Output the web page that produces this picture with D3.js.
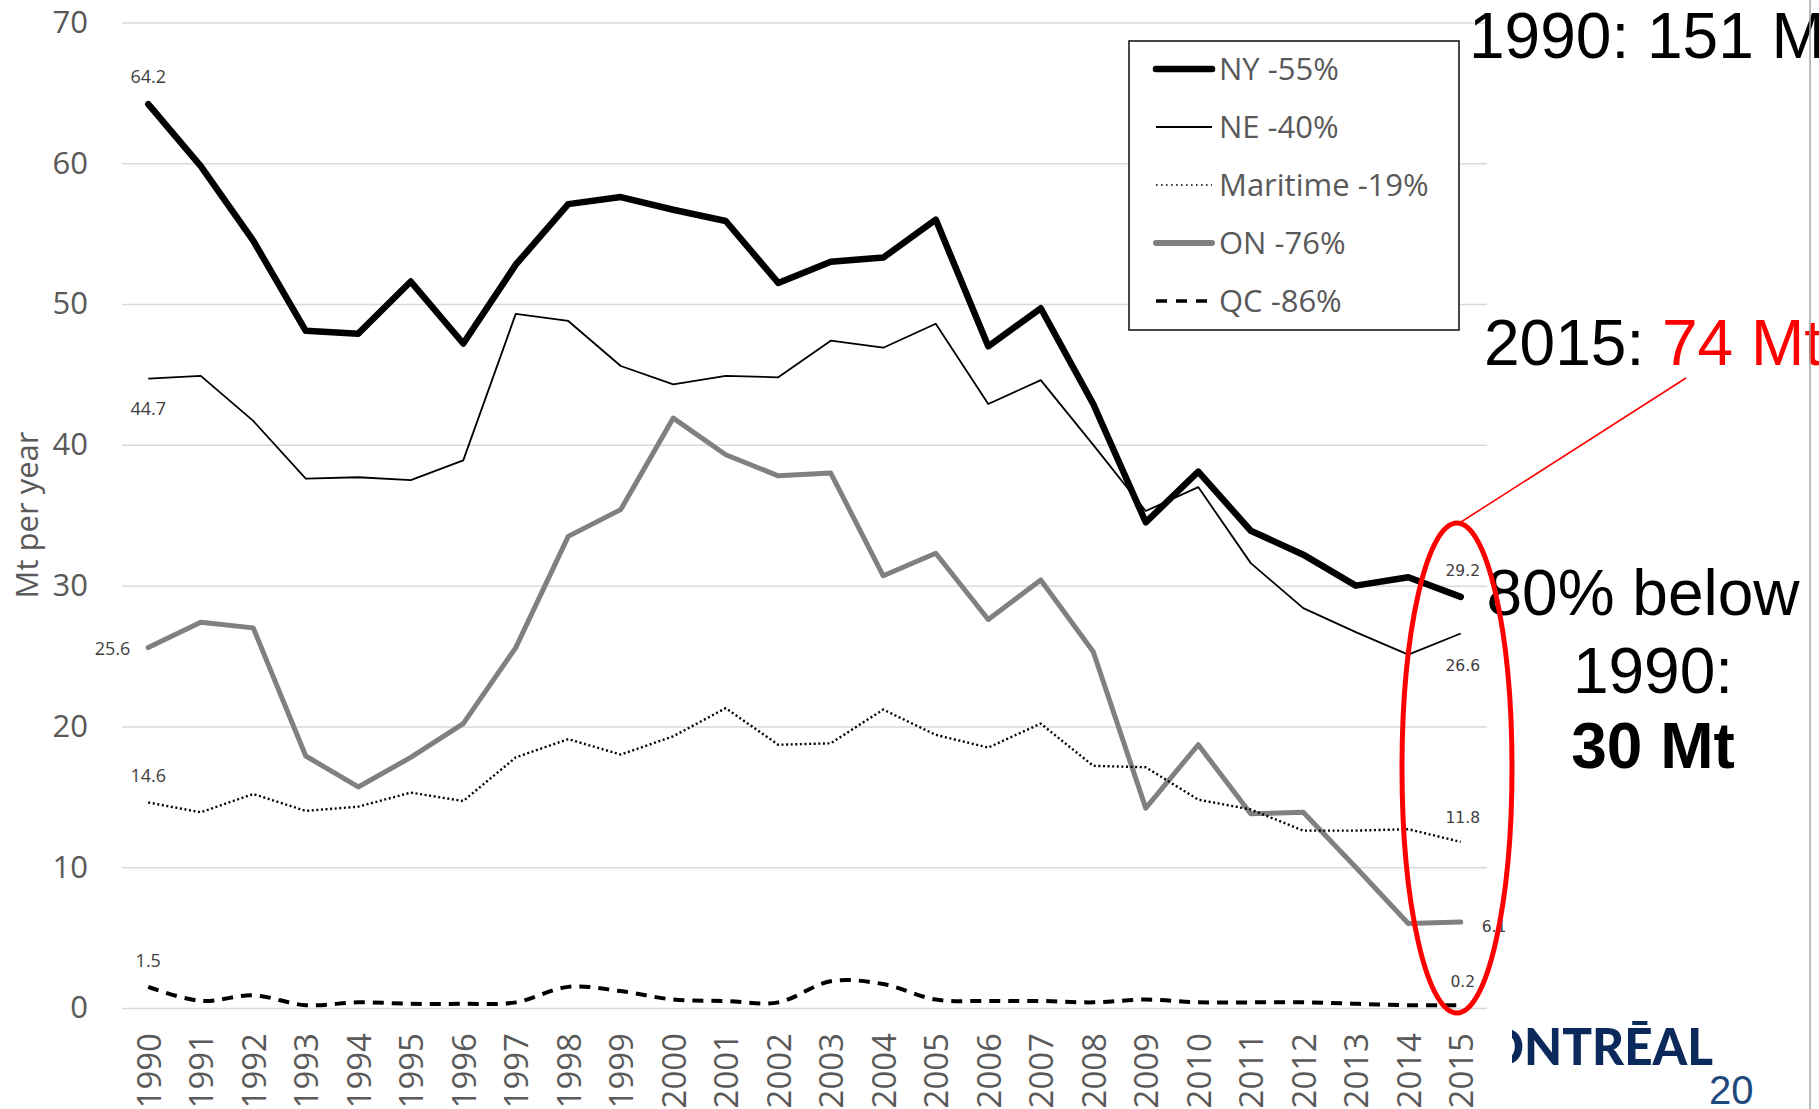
<!DOCTYPE html>
<html lang="en">

<head>
  <meta charset="UTF-8">
  <title>Emissions 1990-2015</title>
  <script src="https://d3js.org/d3.v7.min.js"></script>
  <style>
    body { margin: 0; background: #fff; }
    svg { display: block; }
  </style>
</head>

<body>
  <svg id="chart" width="1819" height="1109"></svg>

  <script>
    // values (Mt per year)
    const years = ["1990", "1991", "1992", "1993", "1994", "1995", "1996", "1997", "1998", "1999",
      "2000", "2001", "2002", "2003", "2004", "2005", "2006", "2007", "2008", "2009",
      "2010", "2011", "2012", "2013", "2014", "2015"];
    const ny = [64.2, 59.8, 54.5, 48.1, 47.9, 51.6, 47.2, 52.8, 57.1, 57.6, 56.7, 55.9, 51.5,
      53.0, 53.3, 56.0, 47.0, 49.7, 42.9, 34.5, 38.1, 33.9, 32.2, 30.0, 30.6, 29.2];
    const ne = [44.7, 44.9, 41.7, 37.6, 37.7, 37.5, 38.9, 49.3, 48.8, 45.6, 44.3, 44.9, 44.8,
      47.4, 46.9, 48.6, 42.9, 44.6, 40.0, 35.3, 37.0, 31.6, 28.4, 26.7, 25.1, 26.6];
    const maritime = [14.6, 13.9, 15.2, 14.0, 14.3, 15.3, 14.7, 17.8, 19.1, 18.0, 19.3, 21.3, 18.7,
      18.8, 21.2, 19.4, 18.5, 20.2, 17.2, 17.1, 14.8, 14.1, 12.6, 12.6, 12.7, 11.8];
    const on = [25.6, 27.4, 27.0, 17.9, 15.7, 17.8, 20.2, 25.6, 33.5, 35.4, 41.9, 39.3, 37.8,
      38.0, 30.7, 32.3, 27.6, 30.4, 25.3, 14.2, 18.7, 13.8, 13.9, 10.0, 6.0, 6.1];
    const qc = [1.5, 0.5, 0.9, 0.2, 0.4, 0.3, 0.3, 0.4, 1.5, 1.2, 0.6, 0.5, 0.4,
      1.9, 1.7, 0.6, 0.5, 0.5, 0.4, 0.6, 0.4, 0.4, 0.4, 0.3, 0.2, 0.2];
    const legendLabels = ["NY -55%", "NE -40%", "Maritime -19%", "ON -76%", "QC -86%"];
    const yTicks = [0, 10, 20, 30, 40, 50, 60, 70];

    const margin = { top: 22.5, right: 332, bottom: 101, left: 122 };
    const width = 1819 - margin.left - margin.right;
    const height = 1109 - margin.top - margin.bottom;

    const svg = d3.select("#chart");
    const g = svg.append("g")
      .attr("transform", `translate(${margin.left}, ${margin.top})`);

    const x = d3.scalePoint()
      .domain(years)
      .range([0, width])
      .padding(0.5);

    const y = d3.scaleLinear()
      .domain([0, 70])
      .range([height, 0]);

    // gridlines + y labels
    g.append("g")
      .attr("class", "axis axis--y")
      .call(d3.axisLeft(y).tickValues(yTicks).tickSize(-width).tickPadding(34))
      .call(a => a.select(".domain").remove())
      .call(a => a.selectAll("line").attr("stroke", "#d9d9d9").attr("stroke-width", 1.5))
      .call(a => a.selectAll("text")
        .attr("fill", "#595959")
        .style("font-family", "'Open Sans'")
        .style("font-size", "31px"));

    // rotated year labels
    g.append("g")
      .attr("class", "axis axis--x")
      .attr("transform", `translate(0, ${height})`)
      .call(d3.axisBottom(x).tickSize(0).tickPadding(0))
      .call(a => a.select(".domain").remove())
      .selectAll("text")
      .attr("transform", "rotate(-90)")
      .attr("text-anchor", "end")
      .attr("x", -25)
      .attr("y", 0)
      .attr("dy", "0.36em")
      .attr("fill", "#595959")
      .style("font-family", "'Open Sans'")
      .style("font-size", "33px");

    svg.append("text")
      .attr("transform", "translate(38, 515) rotate(-90)")
      .attr("text-anchor", "middle")
      .attr("fill", "#595959")
      .style("font-family", "'Open Sans'")
      .style("font-size", "31px")
      .text("Mt per year");

    const series = [
      { values: ny, stroke: "#000", width: 6.5, dash: null, curve: d3.curveLinear, cap: "round" },
      { values: ne, stroke: "#000", width: 1.8, dash: null, curve: d3.curveLinear, cap: "butt" },
      { values: maritime, stroke: "#000", width: 2.4, dash: "2 2.6", curve: d3.curveLinear, cap: "butt" },
      { values: on, stroke: "#808080", width: 5, dash: null, curve: d3.curveLinear, cap: "round" },
      { values: qc, stroke: "#000", width: 4, dash: "11 8", curve: d3.curveCatmullRom.alpha(0.5), cap: "butt" }
    ];

    // draw bottom to top so NY sits over the rest
    series.slice().reverse().forEach(s => {
      const line = d3.line()
        .x((d, i) => x(years[i]))
        .y(d => y(d))
        .curve(s.curve);
      g.append("path")
        .datum(s.values)
        .attr("class", "line")
        .attr("fill", "none")
        .attr("stroke", s.stroke)
        .attr("stroke-width", s.width)
        .attr("stroke-linejoin", "round")
        .attr("stroke-linecap", s.cap)
        .attr("stroke-dasharray", s.dash)
        .attr("d", line);
    });

    // first-year labels (left) and last-year labels (right)
    const first = years[0], last = years[years.length - 1];
    const leftLabels = [
      { v: ny[0], dx: 0, dy: -21, anchor: "middle" },
      { v: ne[0], dx: 0, dy: 36, anchor: "middle" },
      { v: on[0], dx: -18, dy: 7, anchor: "end" },
      { v: maritime[0], dx: 0, dy: -20, anchor: "middle" },
      { v: qc[0], dx: 0, dy: -20, anchor: "middle" }
    ];
    leftLabels.forEach(d => {
      g.append("text")
        .attr("x", x(first) + d.dx)
        .attr("y", y(d.v) + d.dy)
        .attr("text-anchor", d.anchor)
        .attr("fill", "#404040")
        .style("font-family", "'Open Sans'")
        .style("font-size", "18px")
        .text(d.v.toFixed(1));
    });

    const n = years.length - 1;
    const rightLabels = [
      { v: ny[n], dx: 2, dy: -21, anchor: "middle" },
      { v: ne[n], dx: 2, dy: 37, anchor: "middle" },
      { v: maritime[n], dx: 2, dy: -19, anchor: "middle" },
      { v: on[n], dx: 21, dy: 10, anchor: "start" },
      { v: qc[n], dx: 2, dy: -18, anchor: "middle" }
    ];
    rightLabels.forEach(d => {
      g.append("text")
        .attr("x", x(last) + d.dx)
        .attr("y", y(d.v) + d.dy)
        .attr("text-anchor", d.anchor)
        .attr("fill", "#404040")
        .style("font-family", "'DejaVu Sans'")
        .style("font-size", "15.5px")
        .text(d.v.toFixed(1));
    });

    // legend
    const legend = svg.append("g").attr("transform", "translate(1129, 41)");
    legend.append("rect")
      .attr("width", 330)
      .attr("height", 289)
      .attr("fill", "#fff")
      .attr("stroke", "#1a1a1a")
      .attr("stroke-width", 1.6);

    const legendDash = [null, null, "1.6 3.4", null, "11 9"];
    const legendWidth = [6.5, 1.8, 1.6, 6, 3.5];
    const legendCap = ["round", "butt", "butt", "round", "butt"];
    legendLabels.forEach((label, i) => {
      const s = series[i];
      const row = legend.append("g").attr("transform", `translate(0, ${28 + i * 58})`);
      row.append("line")
        .attr("x1", 27).attr("x2", 83)
        .attr("stroke", s.stroke)
        .attr("stroke-width", legendWidth[i])
        .attr("stroke-linecap", legendCap[i])
        .attr("stroke-dasharray", legendDash[i]);
      row.append("text")
        .attr("x", 90)
        .attr("y", 11)
        .attr("fill", "#595959")
        .style("font-family", "'Open Sans'")
        .style("font-size", "31px")
        .text(label);
    });

    // slide annotations
    const big = "'Liberation Sans', Arial, sans-serif";
    svg.append("text")
      .attr("x", 1469).attr("y", 58)
      .style("font-family", big).style("font-size", "64px")
      .text("1990: 151 Mt");

    const t2015 = svg.append("text")
      .attr("x", 1484).attr("y", 365)
      .style("font-family", big).style("font-size", "64px");
    t2015.append("tspan").text("2015: ");
    t2015.append("tspan").attr("fill", "#ff0000").text("74 Mt");

    const note = svg.append("g")
      .attr("text-anchor", "middle")
      .style("font-family", big)
      .style("font-size", "64px");
    note.append("text").attr("x", 1643).attr("y", 615).text("80% below");
    note.append("text").attr("x", 1653).attr("y", 693).text("1990:");
    note.append("text").attr("x", 1653).attr("y", 768).attr("font-weight", "bold").text("30 Mt");

    // red callout around 2015
    svg.append("line")
      .attr("x1", 1461).attr("y1", 522)
      .attr("x2", 1686).attr("y2", 378)
      .attr("stroke", "#ff0000")
      .attr("stroke-width", 1.6);
    svg.append("ellipse")
      .attr("cx", 1457).attr("cy", 768)
      .attr("rx", 55).attr("ry", 245)
      .attr("fill", "none")
      .attr("stroke", "#ff0000")
      .attr("stroke-width", 5);

    // slide frame bits: logo, page number, edge line
    svg.append("clipPath").attr("id", "logoClip")
      .append("rect").attr("x", 1512).attr("y", 990).attr("width", 300).attr("height", 100);
    svg.append("text")
      .attr("clip-path", "url(#logoClip)")
      .attr("x", 1484).attr("y", 1065)
      .attr("textLength", 229)
      .attr("lengthAdjust", "spacingAndGlyphs")
      .attr("fill", "#0b2a5b")
      .style("font-family", "Lato")
      .style("font-weight", 900)
      .style("font-size", "51px")
      .text("ONTRĒAL");
    svg.append("text")
      .attr("x", 1709).attr("y", 1104)
      .attr("fill", "#1c4a7c")
      .style("font-family", big)
      .style("font-size", "40px")
      .text("20");
    svg.append("line")
      .attr("x1", 1810).attr("x2", 1810)
      .attr("y1", 0).attr("y2", 1109)
      .attr("stroke", "#a6a6a6")
      .attr("stroke-width", 1.5);
  </script>
</body>

</html>
